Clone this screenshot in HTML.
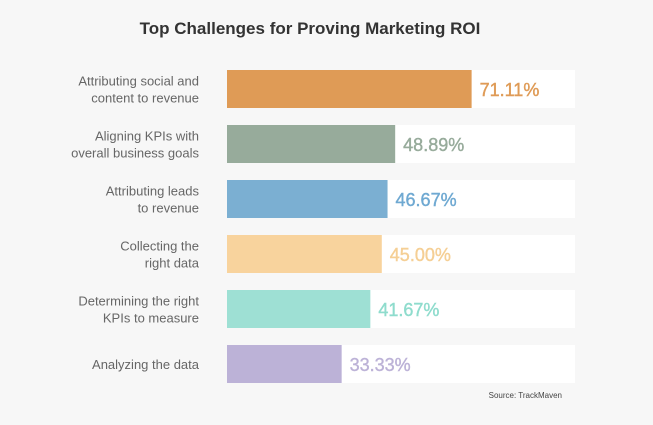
<!DOCTYPE html>
<html><head><meta charset="utf-8"><style>
body{margin:0;background:#f7f7f7;width:653px;height:420px;overflow:hidden;font-family:"Liberation Sans",sans-serif}
</style></head><body>
<svg width="653" height="420">
<text x="310" y="34" text-anchor="middle" font-size="17" font-weight="bold" fill="#333">Top Challenges for Proving Marketing ROI</text>
<g id="rows"></g>
<text x="562" y="398" text-anchor="end" font-size="8" fill="#444">Source: TrackMaven</text>
</svg>
<script>
const categories=[["Attributing social and","content to revenue"],["Aligning KPIs with","overall business goals"],["Attributing leads","to revenue"],["Collecting the","right data"],["Determining the right","KPIs to measure"],["Analyzing the data"]];
const values=[71.11,48.89,46.67,45.00,41.67,33.33];
const valueLabels=["71.11%","48.89%","46.67%","45.00%","41.67%","33.33%"];
const colors=["#df9b56","#97ab9b","#7bafd2","#f8d39d","#9ee0d4","#bcb2d7"];
const textColors=["#df9b56","#97ab9b","#6fa9d2","#f5cf95","#8fdccd","#bcb2d7"];
const X0=227,TW=344,BH=38;
const xs=v=>v/100*TW;
const ys=i=>70+i*55;
const g=document.getElementById('rows');
const NS="http://www.w3.org/2000/svg";
function mk(t,a){const e=document.createElementNS(NS,t);for(const k in a)e.setAttribute(k,a[k]);return e;}
values.forEach((v,i)=>{
 const y=ys(i);
 const tr=mk('rect',{x:X0,y:y,width:348,height:BH,fill:'#fff'});
 
 
 g.appendChild(tr);
 const b=mk('rect',{x:X0,y:y,width:xs(v),height:BH,fill:colors[i]});
 
 
 g.appendChild(b);
 const vl=mk('text',{x:X0+xs(v)+8,y:y+BH/2+7,'font-size':18,fill:textColors[i],stroke:textColors[i],'stroke-width':0.4});
 vl.textContent=valueLabels[i];
 
 
 g.appendChild(vl);
 const lines=categories[i];
 lines.forEach((ln,j)=>{
  const t=mk('text',{x:199,y:y+BH/2+5+(j-(lines.length-1)/2)*17,'text-anchor':'end','font-size':13,fill:'#666'});
  t.textContent=ln;
  
  
  g.appendChild(t);
 });
});
</script>
</body></html>
